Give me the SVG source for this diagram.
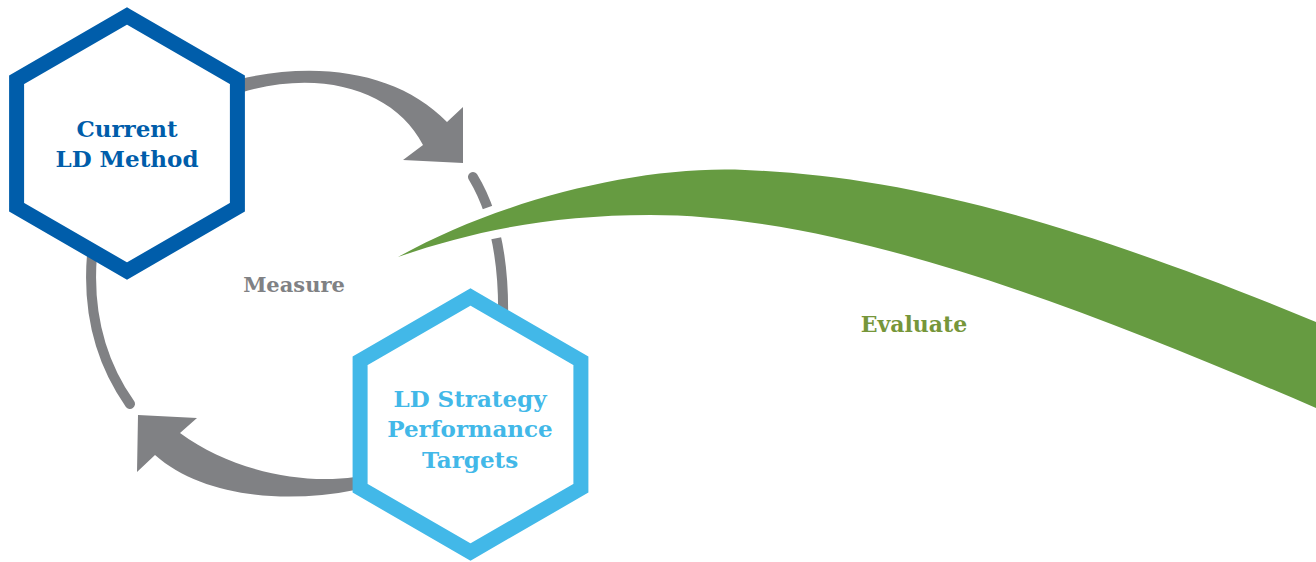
<svg xmlns="http://www.w3.org/2000/svg" width="1316" height="562" viewBox="0 0 1316 562">
<style>
.arc{fill:none;stroke:#808184;stroke-width:10;stroke-linecap:round}
.arrow{fill:#808184}
.hex{fill:#fff;stroke-width:15;stroke-linejoin:miter}
.t{font-family:"DejaVu Serif","Liberation Serif",serif;font-weight:bold;text-anchor:middle}
</style>
<rect width="1316" height="562" fill="#fff"/>
<g id="connectors">
<path class="arc" d="M92 255 Q85 340 130 404"/>
<path class="arc" d="M473 177 Q505 230 503 320"/>
<path class="arrow" d="M240 79 C320 60 400 73 447 122 L463 107 L463 163 L403 160 L423 145 C395 90 320 68 240 93 Z"/>
<path class="arrow" d="M355 477 C300 485 230 470 180 433 L197 418 L138 415 L137 472 L155 455 C200 495 280 505 355 490 Z"/>
</g>
<g id="evaluate">
<path d="M398 257 C500 200 640 165 745 170 C890 176 1050 212 1316 322 L1316 408 C1100 315 850 215 650 215 C550 215 470 232 398 257 Z" fill="#669B41" stroke="#fff" stroke-width="16" stroke-linejoin="round" paint-order="stroke"/>
<text class="t" x="914" y="332" font-size="22" fill="#76963A">Evaluate</text>
</g>
<g id="measure">
<text class="t" x="294" y="292" font-size="21" fill="#808184">Measure</text>
</g>
<g id="current">
<polygon class="hex" stroke="#005DAA" points="127,16 237.4,79.75 237.4,207.25 127,271 16.6,207.25 16.6,79.75"/>
<text class="t" font-size="23" fill="#005DAA"><tspan x="127" y="137">Current</tspan><tspan x="127" y="167">LD Method</tspan></text>
</g>
<g id="targets">
<polygon class="hex" stroke="#42B8E8" points="470.5,297 580.9,360.75 580.9,488.25 470.5,552 360.1,488.25 360.1,360.75"/>
<text class="t" font-size="23" fill="#42B8E8"><tspan x="470" y="407">LD Strategy</tspan><tspan x="470" y="437">Performance</tspan><tspan x="470" y="468">Targets</tspan></text>
</g>
</svg>
